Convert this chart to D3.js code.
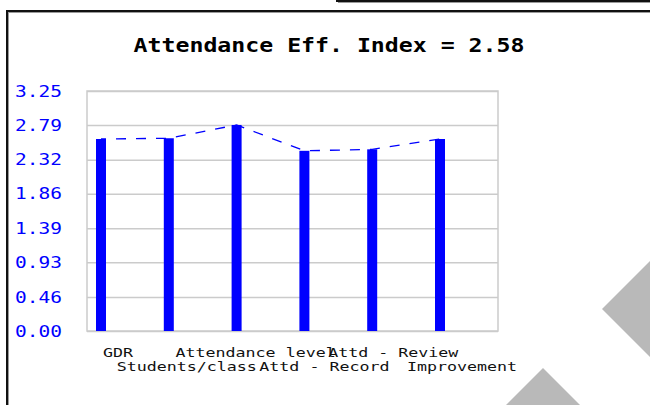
<!DOCTYPE html>
<html>
<head>
<meta charset="utf-8">
<script src="https://cdn.jsdelivr.net/npm/d3@7"></script>
<style>
  html, body { margin: 0; padding: 0; background: #fff; overflow: hidden; }
  svg { display: block; }
</style>
</head>
<body>
<svg id="chart" width="650" height="405"></svg>
<script>
// ---- data ----
const categories = ["GDR", "Students/class", "Attendance level", "Attd - Record", "Attd - Review", "Improvement"];
const values = [2.60, 2.61, 2.79, 2.44, 2.46, 2.60];
const tickValues = [0, 0.46, 0.93, 1.39, 1.86, 2.32, 2.79, 3.25];
const yMax = 3.25;
const titlePrefix = "Attendance Eff. Index = ";

// ---- layout ----
const W = 650, H = 405;
const plot = { left: 87, top: 91, right: 498, bottom: 331 };
const blue = "#0000ff";
const gridGrey = "#cbcbcb";
const mono = "'DejaVu Sans Mono', 'Liberation Mono', monospace";

const svg = d3.select("#chart");
svg.append("rect").attr("width", W).attr("height", H).attr("fill", "#fff");

// decorative grey diamonds around the panel
const deco = svg.append("g").attr("fill", "#b9b9b9");
deco.append("polygon").attr("points", "602,309 650,261 698,309 650,357");
deco.append("polygon").attr("points", "543,368 580,405 543,442 506,405");

// panel edges: a box above and the framed panel below it
const frame = svg.append("g");
frame.append("line").attr("x1", 336).attr("x2", W).attr("y1", 1).attr("y2", 1)
  .attr("stroke", "#111").attr("stroke-width", 2);
frame.append("line").attr("x1", 337).attr("x2", 337).attr("y1", -2).attr("y2", 2)
  .attr("stroke", "#111").attr("stroke-width", 2);
frame.append("line").attr("x1", 338).attr("x2", W).attr("y1", 2.5).attr("y2", 2.5)
  .attr("stroke", "#9a9a9a").attr("stroke-width", 1);
frame.append("line").attr("x1", 6).attr("x2", W).attr("y1", 11).attr("y2", 11)
  .attr("stroke", "#111").attr("stroke-width", 2);
frame.append("line").attr("x1", 7).attr("x2", 7).attr("y1", 10).attr("y2", H)
  .attr("stroke", "#111").attr("stroke-width", 2);
frame.append("line").attr("x1", 8).attr("x2", W).attr("y1", 12.5).attr("y2", 12.5)
  .attr("stroke", "#9a9a9a").attr("stroke-width", 1);
frame.append("line").attr("x1", 8.5).attr("x2", 8.5).attr("y1", 12).attr("y2", H)
  .attr("stroke", "#9a9a9a").attr("stroke-width", 1);

// ---- scales ----
const y = d3.scaleLinear().domain([0, yMax]).range([plot.bottom, plot.top]);
const xBar = d3.scalePoint().domain(categories).range([101, 440]);
const xLabel = d3.scalePoint().domain(categories).range([118, 462]);

// ---- grid ----
const grid = svg.append("g")
  .attr("transform", `translate(${plot.left},0)`)
  .call(d3.axisLeft(y).tickValues(tickValues).tickFormat("").tickSize(-(plot.right - plot.left)));
grid.select(".domain").remove();
grid.selectAll("line").attr("stroke", gridGrey).attr("stroke-width", 1.5);

svg.append("rect")
  .attr("x", plot.left).attr("y", plot.top)
  .attr("width", plot.right - plot.left).attr("height", plot.bottom - plot.top)
  .attr("fill", "none").attr("stroke", gridGrey).attr("stroke-width", 1.5);

// ---- y axis labels ----
const yAxis = svg.append("g")
  .attr("transform", `translate(${plot.left},0)`)
  .call(d3.axisLeft(y).tickValues(tickValues).tickFormat(d3.format(".2f")).tickSize(0));
yAxis.select(".domain").remove();
yAxis.selectAll("text")
  .attr("x", 0)
  .attr("transform", "translate(-25,0) scale(1.22,1)")
  .attr("fill", blue)
  .style("font-family", mono)
  .style("font-size", "16px");

// ---- dashed trend through the bar tops ----
svg.append("path")
  .datum(values)
  .attr("fill", "none")
  .attr("stroke", blue)
  .attr("stroke-width", 1.3)
  .attr("stroke-dasharray", "10,10")
  .attr("stroke-dashoffset", 5)
  .attr("d", d3.line()
    .x((d, i) => xBar(categories[i]))
    .y(d => y(d)));

// ---- bars ----
svg.append("g").selectAll("rect")
  .data(values)
  .join("rect")
  .attr("x", (d, i) => xBar(categories[i]) - 5)
  .attr("width", 10)
  .attr("y", d => y(d))
  .attr("height", d => y(0) - y(d))
  .attr("fill", blue);

// ---- category labels, staggered on two rows ----
svg.append("g").selectAll("text")
  .data(categories)
  .join("text")
  .attr("text-anchor", "middle")
  .attr("transform", (d, i) => `translate(${xLabel(d)},${i % 2 === 0 ? 357 : 371}) scale(1.28,1)`)
  .attr("fill", "#111")
  .style("font-family", mono)
  .style("font-size", "13px")
  .text(d => d);

// ---- title ----
svg.append("text")
  .attr("text-anchor", "middle")
  .attr("transform", "translate(329,52) scale(1.16,1)")
  .attr("fill", "#000")
  .style("font-family", mono)
  .style("font-weight", "bold")
  .style("font-size", "20px")
  .text(titlePrefix + d3.format(".2f")(d3.mean(values)));
</script>
</body>
</html>
